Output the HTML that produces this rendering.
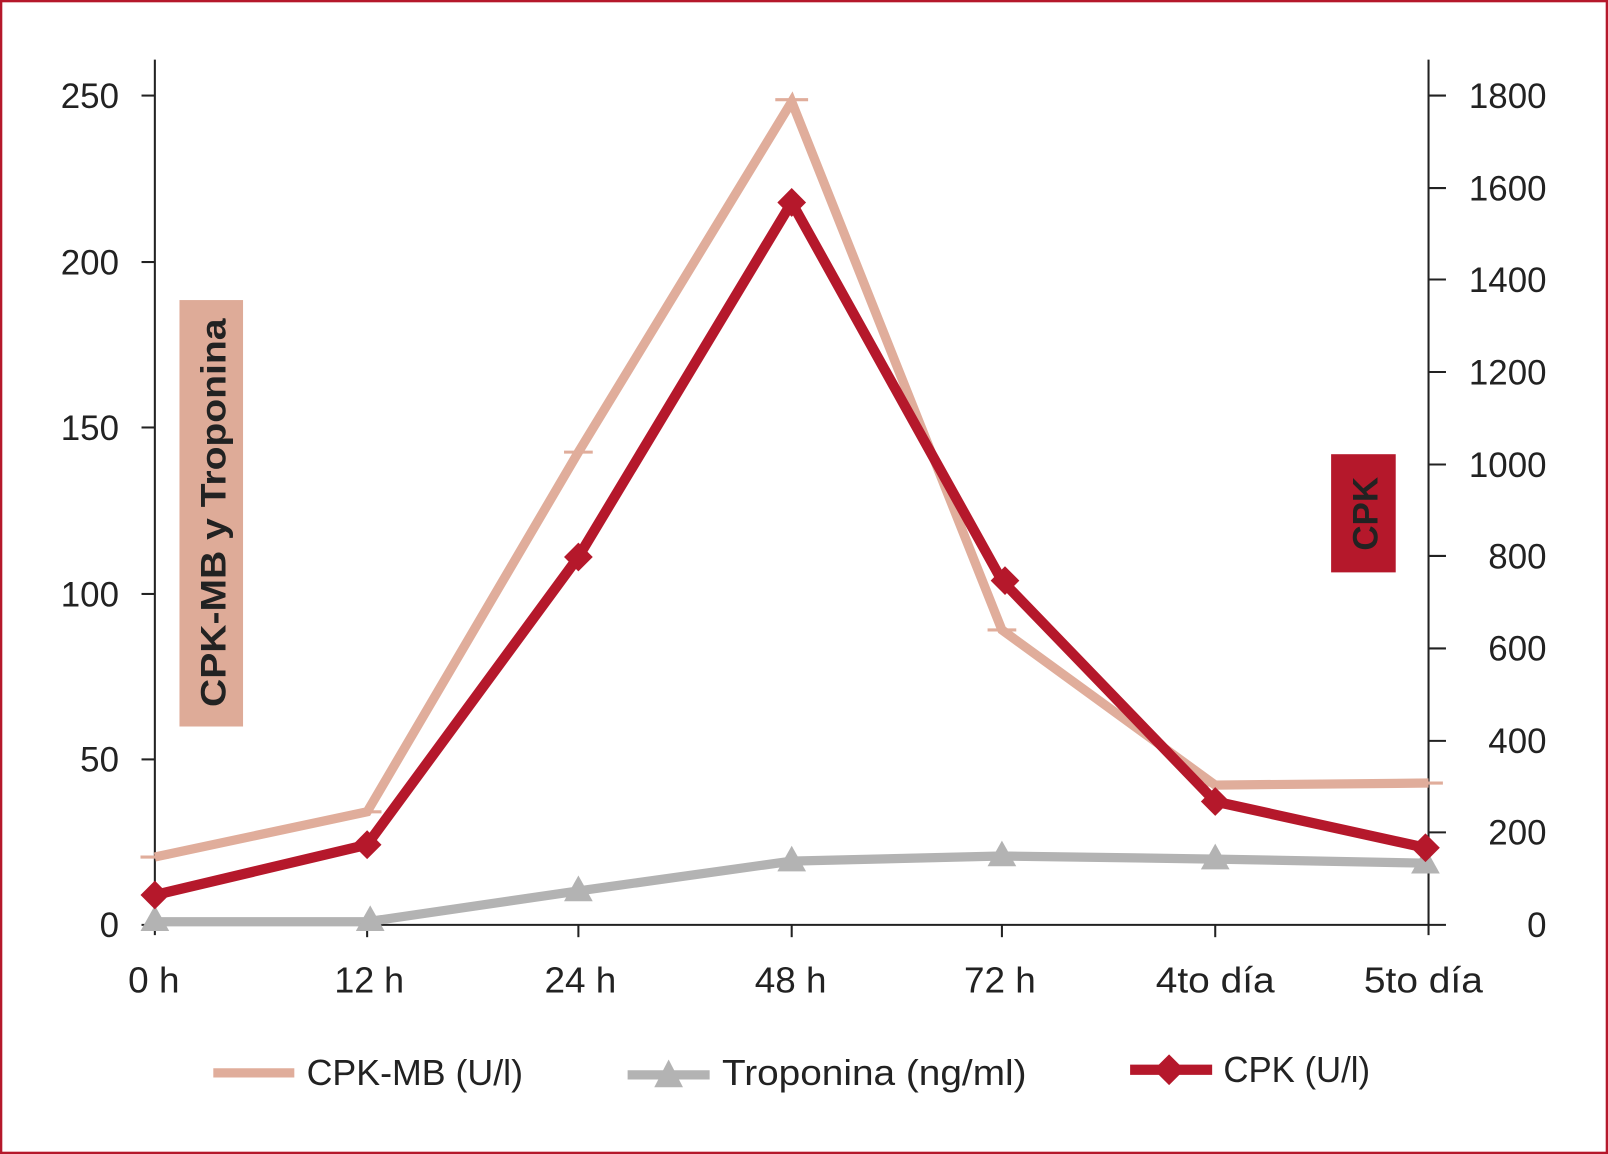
<!DOCTYPE html>
<html><head><meta charset="utf-8"><style>html,body{margin:0;padding:0;background:#fff}svg{display:block}</style></head>
<body>
<svg width="1608" height="1154" viewBox="0 0 1568 1123" preserveAspectRatio="none" xmlns="http://www.w3.org/2000/svg" font-family="Liberation Sans, sans-serif" fill="#222">
<rect x="1" y="1" width="1566" height="1121" fill="#fff" stroke="#b5182b" stroke-width="2.5"/>
<rect x="175" y="292" width="62" height="415" fill="#deab98"/>
<text transform="translate(220,499) rotate(-90)" text-anchor="middle" font-size="34" font-weight="bold" fill="#222" textLength="378" lengthAdjust="spacingAndGlyphs">CPK-MB y Troponina</text>
<rect x="1298" y="442" width="63" height="115" fill="#b5182b"/>
<text transform="translate(1343,500) rotate(-90)" text-anchor="middle" font-size="34" font-weight="bold" fill="#222">CPK</text>
<g stroke="#222" stroke-width="2">
<line x1="151" y1="58" x2="151" y2="910"/>
<line x1="1393" y1="58" x2="1393" y2="910"/>
<line x1="138" y1="900" x2="1410" y2="900"/>
<line x1="138" y1="93" x2="151" y2="93"/><line x1="138" y1="255" x2="151" y2="255"/><line x1="138" y1="416" x2="151" y2="416"/><line x1="138" y1="578" x2="151" y2="578"/><line x1="138" y1="739" x2="151" y2="739"/>
<line x1="1393" y1="93" x2="1410" y2="93"/><line x1="1393" y1="183" x2="1410" y2="183"/><line x1="1393" y1="272" x2="1410" y2="272"/><line x1="1393" y1="362" x2="1410" y2="362"/><line x1="1393" y1="452" x2="1410" y2="452"/><line x1="1393" y1="541" x2="1410" y2="541"/><line x1="1393" y1="631" x2="1410" y2="631"/><line x1="1393" y1="721" x2="1410" y2="721"/><line x1="1393" y1="810" x2="1410" y2="810"/>
<line x1="358" y1="900" x2="358" y2="912"/><line x1="564" y1="900" x2="564" y2="912"/><line x1="772" y1="900" x2="772" y2="912"/><line x1="977" y1="900" x2="977" y2="912"/><line x1="1185" y1="900" x2="1185" y2="912"/>
</g>
<g font-size="34" text-anchor="end">
<text x="116" y="105">250</text><text x="116" y="267">200</text><text x="116" y="428">150</text><text x="116" y="590">100</text><text x="116" y="751">50</text><text x="116" y="912">0</text>
</g>
<g font-size="34" text-anchor="end">
<text x="1508" y="105">1800</text><text x="1508" y="195">1600</text><text x="1508" y="284">1400</text><text x="1508" y="374">1200</text><text x="1508" y="464">1000</text><text x="1508" y="553">800</text><text x="1508" y="643">600</text><text x="1508" y="733">400</text><text x="1508" y="822">200</text><text x="1508" y="912">0</text>
</g>
<g font-size="35" text-anchor="middle">
<text x="150" y="966" textLength="50" lengthAdjust="spacingAndGlyphs">0 h</text><text x="360" y="966" textLength="68" lengthAdjust="spacingAndGlyphs">12 h</text><text x="566" y="966" textLength="70" lengthAdjust="spacingAndGlyphs">24 h</text><text x="771" y="966" textLength="70" lengthAdjust="spacingAndGlyphs">48 h</text><text x="975" y="966" textLength="70" lengthAdjust="spacingAndGlyphs">72 h</text><text x="1185" y="966" textLength="116" lengthAdjust="spacingAndGlyphs">4to día</text><text x="1388" y="966" textLength="116" lengthAdjust="spacingAndGlyphs">5to día</text>
</g>
<g stroke="#e0ad9b" stroke-width="3">
<line x1="137" y1="834" x2="165" y2="834"/><line x1="344" y1="790" x2="372" y2="790"/><line x1="550" y1="440" x2="578" y2="440"/><line x1="756" y1="97" x2="788" y2="97"/><line x1="963" y1="613" x2="991" y2="613"/><line x1="1171" y1="764" x2="1199" y2="764"/><line x1="1379" y1="762" x2="1407" y2="762"/>
</g>
<polyline points="151,834 358,790 564,440 772,99 977,613 1185,764 1393,762" fill="none" stroke="#e0ad9b" stroke-width="9" stroke-linejoin="miter"/>
<polyline points="151,897 358,897 564,867 772,838 977,833 1185,836 1393,840" fill="none" stroke="#b3b3b3" stroke-width="9"/>
<g fill="#b3b3b3">
<polygon points="151,881 137,906 165,906"/><polygon points="361,881 347,906 375,906"/><polygon points="564,852 550,877 578,877"/><polygon points="772,823 758,848 786,848"/><polygon points="977,818 963,843 991,843"/><polygon points="1185,821 1171,846 1199,846"/><polygon points="1390,825 1376,850 1404,850"/>
</g>
<polyline points="151,871 358,822 564,542 772,197 977,565 1185,780 1390,825" fill="none" stroke="#b5182b" stroke-width="10"/>
<g fill="#b5182b">
<polygon points="151,857 165,871 151,885 137,871"/><polygon points="358,808 372,822 358,836 344,822"/><polygon points="564,528 578,542 564,556 550,542"/><polygon points="772,183 786,197 772,211 758,197"/><polygon points="980,551 994,565 980,579 966,565"/><polygon points="1185,766 1199,780 1185,794 1171,780"/><polygon points="1390,811 1404,825 1390,839 1376,825"/>
</g>
<line x1="208" y1="1044" x2="287" y2="1044" stroke="#e0ad9b" stroke-width="9"/>
<text x="299" y="1056" font-size="35" textLength="211" lengthAdjust="spacingAndGlyphs">CPK-MB (U/l)</text>
<line x1="612" y1="1046" x2="692" y2="1046" stroke="#b3b3b3" stroke-width="9"/>
<polygon points="652,1031 638,1058 666,1058" fill="#b3b3b3"/>
<text x="704" y="1056" font-size="35" textLength="297" lengthAdjust="spacingAndGlyphs">Troponina (ng/ml)</text>
<line x1="1102" y1="1041" x2="1182" y2="1041" stroke="#b5182b" stroke-width="10"/>
<polygon points="1140,1026 1155,1041 1140,1056 1125,1041" fill="#b5182b"/>
<text x="1193" y="1053" font-size="35" textLength="143" lengthAdjust="spacingAndGlyphs">CPK (U/l)</text>
</svg>
</body></html>
